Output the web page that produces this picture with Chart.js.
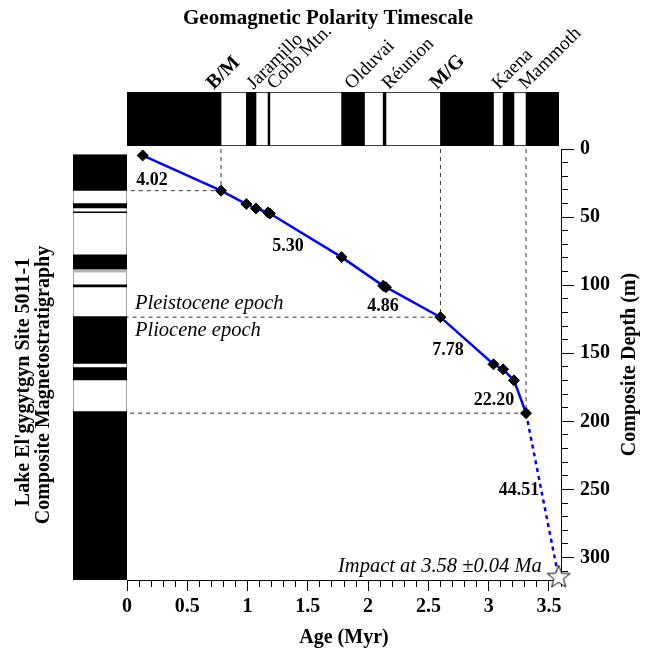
<!DOCTYPE html>
<html>
<head>
<meta charset="utf-8">
<script src="https://cdn.jsdelivr.net/npm/chart.js@4.4.1/dist/chart.umd.min.js"></script>
<style>
  html, body { margin: 0; padding: 0; background: #fff; }
  #wrap { position: relative; width: 649px; height: 650px; }
  #wrap canvas { position: absolute; left: 0; top: 0; }
</style>
</head>
<body>
<div id="wrap">
  <canvas id="cCol" width="649" height="650"></canvas>
  <canvas id="cGpts" width="649" height="650"></canvas>
  <canvas id="cMain" width="649" height="650"></canvas>
</div>
<script>
// ====================
// Datos
// ====================
const ages   = [0.13, 0.78, 0.99, 1.07, 1.17, 1.185, 1.78, 2.125, 2.148, 2.60, 3.04, 3.12, 3.21, 3.31];
const depths = [4.7, 30.6, 40.4, 43.7, 46.6, 47.4, 79.4, 100.5, 101.5, 123.5, 158.1, 161.8, 169.9, 194.0];
const impactAge = 3.58;
const impactDepth = 314.5;
const guideIdx = [1, 9, 13];              // B/M, M/G, base Mammoth

const rateLabels = ["4.02", "5.30", "4.86", "7.78", "22.20", "44.51"];
const rateAges   = [0.207, 1.335, 2.123, 2.663, 3.044, 3.252];
const rateDepths = [23.3, 71.8, 115.9, 148.2, 184.9, 250.3];

const epochLabels = ["Pleistocene epoch", "Pliocene epoch"];
const epochAges   = [0.066, 0.066];
const epochDepths = [113.2, 133.3];
const impactLabel = "Impact at 3.58 \u00b10.04 Ma";

// Escala de polaridad (intervalos normales, Myr)
const gptsNormal = [[0, 0.78], [0.99, 1.07], [1.17, 1.185], [1.78, 1.97], [2.125, 2.148], [2.60, 3.04], [3.12, 3.21], [3.31, 3.58]];
const gptsEnd = 3.58;
const eventNames = ["B/M", "Jaramillo", "Cobb Mtn.", "Olduvai", "R\u00e9union", "M/G", "Kaena", "Mammoth"];
const eventLabelAges = [0.72, 1.05, 1.22, 1.864, 2.173, 2.571, 3.085, 3.307];
const eventBold = ["B/M", "M/G"];

// Magnetoestratigrafía del testigo (profundidad, m)
const coreTop = 4.2;
const coreBase = 316.5;
const coreNormal = [[4.2, 30.4], [40.0, 43.2], [46.1, 46.8], [77.7, 88.0], [99.8, 101.3], [123.1, 157.4], [160.6, 169.6], [192.9, 316.5]];
const coreUncertain = [[88.0, 90.4]];

const AGE_MAX = 3.6;
const DEPTH_MAX = 316.5;

// ====================
// Utilidades
// ====================
const SERIF = "'Liberation Serif', 'Times New Roman', serif";
const isMul = (v, step) => Math.abs(v / step - Math.round(v / step)) < 1e-6;
const fmtTick = (v) => String(Math.round(v * 10) / 10);
const align = (p) => Math.round(p - 0.5) + 0.5;

function txt(ctx, s, x, y, font, opts = {}) {
    ctx.save();
    ctx.translate(x, y);
    if (opts.rot) ctx.rotate(opts.rot);
    ctx.font = font;
    ctx.fillStyle = "#000";
    ctx.textAlign = opts.align || "center";
    ctx.textBaseline = opts.base || "middle";
    ctx.fillText(s, 0, 0);
    ctx.restore();
}

// estrella de 5 puntas para el impacto
function starImg(r) {
    const s = Math.ceil(r * 2 + 4);
    const c = document.createElement("canvas");
    c.width = s; c.height = s;
    const g = c.getContext("2d");
    g.translate(s / 2, s / 2);
    g.beginPath();
    for (let k = 0; k < 10; k++) {
        const rr = k % 2 === 0 ? r : r * 0.42;
        const a = -Math.PI / 2 + k * Math.PI / 5;
        const px = rr * Math.cos(a), py = rr * Math.sin(a);
        if (k === 0) g.moveTo(px, py); else g.lineTo(px, py);
    }
    g.closePath();
    g.fillStyle = "#fff";
    g.fill();
    g.lineWidth = 1;
    g.strokeStyle = "#000";
    g.stroke();
    return c;
}
const STAR = starImg(12);

const common = {
    responsive: false,
    animation: false,
    events: [],
};

// ====================
// Columna magnetoestratigráfica (izquierda)
// ====================
new Chart(document.getElementById("cCol"), {
    type: "bar",
    data: {
        labels: ["core"],
        datasets: [
            ...coreNormal.map(iv => ({ data: [iv], backgroundColor: "#000", borderWidth: 0, order: 0 })),
            ...coreUncertain.map(iv => ({ data: [iv], backgroundColor: "#b4b4b4", borderWidth: 0, order: 0 })),
            { data: [[coreTop, coreBase]], backgroundColor: "#fff", borderColor: "#7a7a7a", borderWidth: 1, borderSkipped: false, order: 1 },
        ],
    },
    options: {
        ...common,
        layout: { padding: { left: 73, right: 522, top: 149, bottom: 70 } },
        datasets: { bar: { grouped: false, barPercentage: 1, categoryPercentage: 1 } },
        plugins: { legend: { display: false }, tooltip: { enabled: false } },
        scales: {
            x: { display: false },
            y: { type: "linear", min: 0, max: DEPTH_MAX, reverse: true, display: false },
        },
    },
});

// ====================
// Escala de polaridad geomagnética (arriba)
// ====================
const gptsLabels = {
    id: "gptsLabels",
    afterDraw(chart) {
        const { ctx, chartArea } = chart;
        const xs = chart.scales.x;
        eventNames.forEach((name, i) => {
            const bold = eventBold.includes(name);
            txt(ctx, name, xs.getPixelForValue(eventLabelAges[i]), chartArea.top - 2,
                (bold ? "bold 20px " : "19px ") + SERIF,
                { rot: -Math.PI / 4, align: "left", base: "alphabetic" });
        });
    },
};

new Chart(document.getElementById("cGpts"), {
    type: "bar",
    data: {
        labels: ["GPTS"],
        datasets: [
            ...gptsNormal.map(iv => ({ data: [iv], backgroundColor: "#000", borderWidth: 0, order: 0 })),
            { data: [[0, gptsEnd]], backgroundColor: "#fff", borderColor: "#000", borderWidth: 1, borderSkipped: false, order: 1 },
        ],
    },
    options: {
        ...common,
        indexAxis: "y",
        layout: { padding: { left: 127, right: 88, top: 92, bottom: 504 } },
        datasets: { bar: { grouped: false, barPercentage: 1, categoryPercentage: 1 } },
        plugins: { legend: { display: false }, tooltip: { enabled: false } },
        scales: {
            x: { type: "linear", min: 0, max: AGE_MAX, display: false },
            y: { display: false },
        },
    },
    plugins: [gptsLabels],
});

// ====================
// Gráfico principal edad-profundidad
// ====================
const mainText = {
    id: "mainText",
    afterDraw(chart) {
        const { ctx, chartArea } = chart;
        const xs = chart.scales.x, ys = chart.scales.y;

        // ticks mayores (más largos)
        ctx.save();
        ctx.strokeStyle = "#000";
        ctx.lineWidth = 1;
        ctx.beginPath();
        ys.ticks.forEach((t, i) => {
            if (!t.label) return;
            const p = align(ys.getPixelForTick(i));
            ctx.moveTo(chartArea.right, p); ctx.lineTo(chartArea.right + 13, p);
        });
        xs.ticks.forEach((t, i) => {
            if (!t.label) return;
            const p = align(xs.getPixelForTick(i));
            ctx.moveTo(p, chartArea.bottom); ctx.lineTo(p, chartArea.bottom + 11);
        });
        ctx.stroke();
        ctx.restore();

        // títulos
        txt(ctx, "Geomagnetic Polarity Timescale", 328, 19, "bold 21px " + SERIF);
        txt(ctx, "Age (Myr)", (chartArea.left + chartArea.right) / 2, 638, "bold 20px " + SERIF);
        txt(ctx, "Composite Depth (m)", 630, (chartArea.top + chartArea.bottom) / 2, "bold 20px " + SERIF, { rot: -Math.PI / 2 });
        txt(ctx, "Lake El'gygytgyn Site 5011-1", 24, 382, "bold 20px " + SERIF, { rot: -Math.PI / 2 });
        txt(ctx, "Composite Magnetostratigraphy", 44, 385, "bold 20px " + SERIF, { rot: -Math.PI / 2 });

        // tasas de sedimentación
        rateLabels.forEach((s, i) => {
            txt(ctx, s, xs.getPixelForValue(rateAges[i]), ys.getPixelForValue(rateDepths[i]), "bold 18px " + SERIF);
        });

        // épocas + impacto
        epochLabels.forEach((s, i) => {
            txt(ctx, s, xs.getPixelForValue(epochAges[i]), ys.getPixelForValue(epochDepths[i]), "italic 20.5px " + SERIF, { align: "left" });
        });
        txt(ctx, impactLabel, xs.getPixelForValue(3.44), ys.getPixelForValue(306.5), "italic 20.5px " + SERIF, { align: "right" });
    },
};

const pts = ages.map((a, i) => ({ x: a, y: depths[i] }));
const last = pts[pts.length - 1];

new Chart(document.getElementById("cMain"), {
    type: "scatter",
    data: {
        datasets: [
            {
                data: pts, showLine: true, borderColor: "#0000ff", borderWidth: 2.5,
                pointStyle: "rectRot", pointRadius: 5.5, pointBackgroundColor: "#000",
                pointBorderColor: "#000", pointBorderWidth: 1, order: 0,
            },
            {
                data: [last, { x: impactAge, y: impactDepth }], showLine: true,
                borderColor: "#0000ff", borderWidth: 2.5, borderDash: [4, 4],
                pointStyle: STAR, pointRadius: [0, 12], clip: false, order: 1,
            },
            ...guideIdx.map(i => ({
                data: [{ x: ages[i], y: 0 }, { x: ages[i], y: depths[i] }, { x: 0, y: depths[i] }],
                showLine: true, borderColor: "#333", borderWidth: 1, borderDash: [4, 4],
                pointRadius: 0, order: 2,
            })),
        ],
    },
    options: {
        ...common,
        layout: { padding: { left: 127, right: 0, top: 149, bottom: 0 } },
        plugins: { legend: { display: false }, tooltip: { enabled: false } },
        scales: {
            x: {
                type: "linear", position: "bottom", min: 0, max: AGE_MAX,
                afterFit: (s) => { s.height = 70; },
                grid: { drawOnChartArea: false, tickLength: 7, color: "#000", tickColor: "#000" },
                border: { color: "#000", width: 1 },
                ticks: {
                    stepSize: 0.1, autoSkip: false, maxRotation: 0, includeBounds: false, padding: 8,
                    color: "#000", font: { family: SERIF, size: 20, weight: "bold" },
                    callback: (v) => isMul(v, 0.5) ? fmtTick(v) : "",
                },
            },
            y: {
                type: "linear", position: "right", reverse: true, min: 0, max: DEPTH_MAX,
                afterFit: (s) => { s.width = 88; },
                grid: { drawOnChartArea: false, tickLength: 7, color: "#000", tickColor: "#000" },
                border: { color: "#000", width: 1 },
                ticks: {
                    stepSize: 10, autoSkip: false, includeBounds: false, padding: 12,
                    color: "#000", font: { family: SERIF, size: 20, weight: "bold" },
                    callback: (v) => isMul(v, 50) ? String(Math.round(v)) : "",
                },
            },
        },
    },
    plugins: [mainText],
});
</script>
</body>
</html>
